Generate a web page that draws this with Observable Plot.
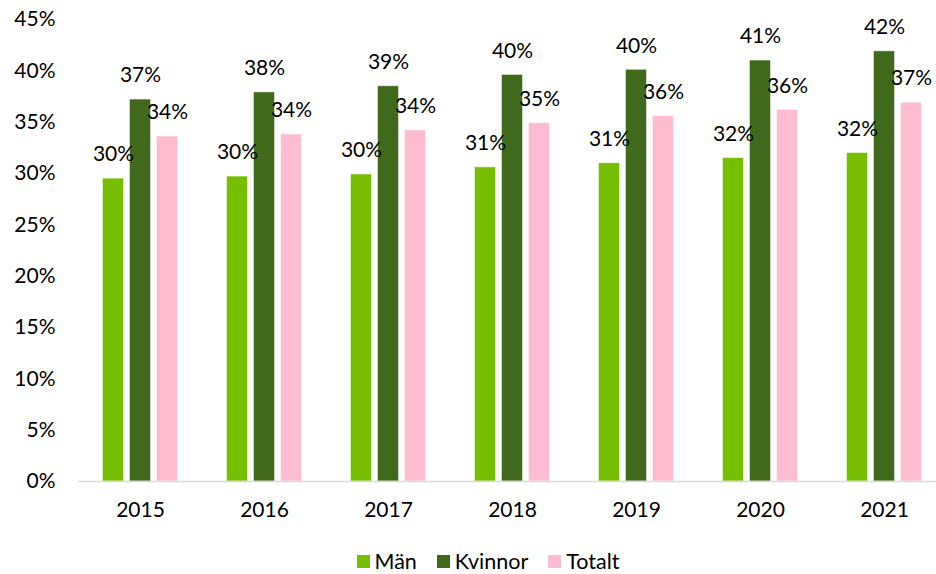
<!DOCTYPE html>
<html>
<head>
<meta charset="utf-8">
<script src="https://cdn.jsdelivr.net/npm/d3@7"></script>
<script src="https://cdn.jsdelivr.net/npm/@observablehq/plot@0.6"></script>
<style>
  html, body { margin: 0; padding: 0; background: #fff; overflow: hidden; width: 936px; height: 574px; position: relative; }
  #chart { width: 936px; height: 548px; overflow: hidden; }
  #chart svg { max-width: none !important; }
  .legend { position: absolute; left: 0; top: 551px; width: 936px; box-sizing: border-box; padding-left: 40px; display: flex; justify-content: center; align-items: center; height: 20px; line-height: 20px; font-family: Lato, "Liberation Sans", sans-serif; font-size: 21.5px; color: #000; }
  .legend .item { display: flex; align-items: center; margin: 0 10px; }
  .legend .sw { width: 13px; height: 13px; margin-right: 5px; }
</style>
</head>
<body>
<div id="chart"></div>
<div class="legend" id="legend"></div>
<script>
const years = ["2015", "2016", "2017", "2018", "2019", "2020", "2021"];
const series = ["Män", "Kvinnor", "Totalt"];
const man = [29.5, 29.7, 29.9, 30.6, 31.0, 31.5, 32.0];
const kvinnor = [37.2, 37.9, 38.5, 39.6, 40.1, 41.0, 41.9];
const totalt = [33.6, 33.8, 34.2, 34.9, 35.6, 36.2, 36.9];
const colors = ["#78BE00", "#41691B", "#FFBCD1"];
const yTicks = [0, 5, 10, 15, 20, 25, 30, 35, 40, 45];

const valuesBySeries = [man, kvinnor, totalt];
const data = [];
years.forEach((year, i) => {
  series.forEach((s, j) => {
    data.push({year, series: s, value: valuesBySeries[j][i]});
  });
});

const chart = Plot.plot({
  width: 948,
  height: 548,
  marginLeft: 76.5,
  marginRight: 0,
  marginTop: 19,
  marginBottom: 67,
  style: {fontFamily: "Lato, 'Liberation Sans', sans-serif", fontSize: "21px", color: "#000", background: "#fff", overflow: "hidden", maxWidth: "none"},
  fx: {domain: years, padding: 0, label: null, tickSize: 0, tickPadding: 21, axis: "bottom"},
  x: {domain: series, axis: null, paddingInner: 0.224, paddingOuter: 0.857},
  y: {domain: [0, 45], ticks: yTicks, tickFormat: d => d + "%", tickSize: 0, tickPadding: 23, label: null},
  color: {domain: series, range: colors},
  marks: [
    Plot.barY(data, {fx: "year", x: "series", y: "value", fill: "series", stroke: "#fff", strokeOpacity: 0.5, strokeWidth: 1}),
    Plot.ruleY([0], {stroke: "#d9d9d9", strokeWidth: 1.5}),
    Plot.text(data, {fx: "year", x: "series", y: "value", text: d => Math.round(d.value) + "%", dy: -24, fontSize: 21, fill: "#000"})
  ]
});
document.getElementById("chart").appendChild(chart);

const legend = document.getElementById("legend");
series.forEach((s, i) => {
  const item = document.createElement("div");
  item.className = "item";
  const sw = document.createElement("span");
  sw.className = "sw";
  sw.style.background = colors[i];
  const label = document.createElement("span");
  label.textContent = s;
  item.appendChild(sw);
  item.appendChild(label);
  legend.appendChild(item);
});
</script>
</body>
</html>
